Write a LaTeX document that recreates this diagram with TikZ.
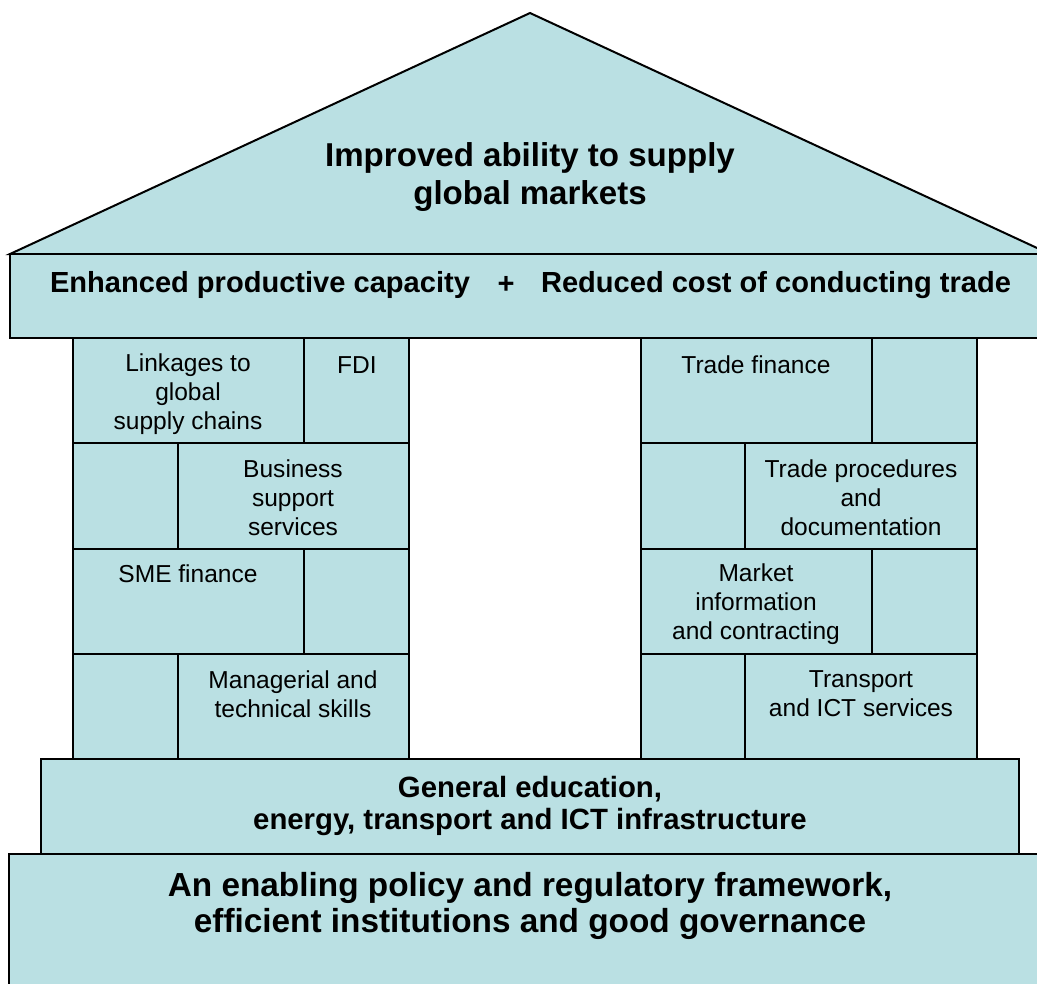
\documentclass[tikz,border=0pt]{standalone}
\usepackage{fontspec}
\setmainfont{Liberation Sans}
\definecolor{paleblue}{RGB}{186,224,227}
\tikzset{
  block/.style={fill=paleblue, draw=black, line width=1.5pt, line join=miter},
  small/.style={font=\fontsize{18.4}{21.8}\selectfont, align=center, inner sep=0pt},
  barlabel/.style={font=\fontsize{21.8}{24}\selectfont\bfseries, inner sep=0pt},
  roof/.style={font=\fontsize{24.8}{27.8}\selectfont\bfseries, align=center, inner sep=0pt},
  infra/.style={font=\fontsize{22}{24}\selectfont\bfseries, align=center, inner sep=0pt},
  ground/.style={font=\fontsize{25}{27}\selectfont\bfseries, align=center, inner sep=0pt},
}
\begin{document}
\begin{tikzpicture}[x=0.75pt,y=-0.75pt]
\useasboundingbox (0,0) rectangle (1037,983);
\clip (0,0) rectangle (1037,983);

% roof and beam
\draw[block] (10,254) -- (530,13) -- (1050,254) -- cycle;
\draw[block] (10,254) rectangle (1050,338);

% left pillar
\draw[block] (73,338) rectangle (304,443);
\draw[block] (304,338) rectangle (409,443);
\draw[block] (73,443) rectangle (178,549);
\draw[block] (178,443) rectangle (409,549);
\draw[block] (73,549) rectangle (304,654);
\draw[block] (304,549) rectangle (409,654);
\draw[block] (73,654) rectangle (178,759);
\draw[block] (178,654) rectangle (409,759);

% right pillar
\draw[block] (641,338) rectangle (872,443);
\draw[block] (872,338) rectangle (977,443);
\draw[block] (641,443) rectangle (745,549);
\draw[block] (745,443) rectangle (977,549);
\draw[block] (641,549) rectangle (872,654);
\draw[block] (872,549) rectangle (977,654);
\draw[block] (641,654) rectangle (745,759);
\draw[block] (745,654) rectangle (977,759);

% infrastructure step and foundation
\draw[block] (41,759) rectangle (1019,854);
\draw[block] (9,854) rectangle (1050,1000);

% labels
\node[roof] (goal) at (530,177) {Improved ability to supply\\global markets};
\node[barlabel] (capacity) at (260,285) {Enhanced productive capacity};
\node[barlabel] (plus) at (506,285) {+};
\node[barlabel] (cost) at (776,285) {Reduced cost of conducting trade};

\node[small] (linkages) at (188,394) {Linkages to\\global\\supply chains};
\node[small] (fdi) at (357,365) {FDI};
\node[small] (business) at (293,498) {Business\\support\\services};
\node[small] (sme) at (188,574) {SME finance};
\node[small] (skills) at (293,694) {Managerial and\\technical skills};

\node[small] (tradefin) at (756,365) {Trade finance};
\node[small] (procedures) at (861,498) {Trade procedures\\and\\documentation};
\node[small] (market) at (756,604) {Market\\information\\and contracting};
\node[small] (transport) at (861,694) {Transport\\and ICT services};

\node[infra] (infrastructure) at (530,806) {General education,\\energy, transport and ICT infrastructure};
\node[ground] (policy) at (530,906) {An enabling policy and regulatory framework,\\efficient institutions and good governance};
\end{tikzpicture}
\end{document}
